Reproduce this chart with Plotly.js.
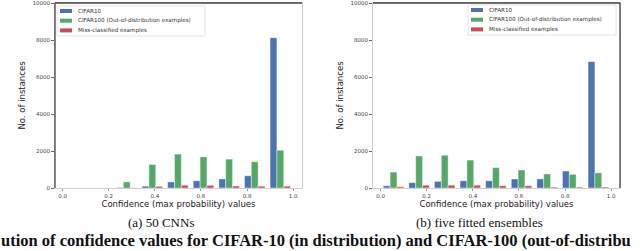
<!DOCTYPE html>
<html>
<head>
<meta charset="utf-8">
<script src="https://cdn.plot.ly/plotly-3.0.1.min.js"></script>
<style>html,body{margin:0;padding:0;background:#fff;}#chart{width:640px;height:251px;}</style>
</head>
<body>
<div id="chart"></div>
<script>
// Bin centres of the 9 histogram bins on [0, 1]
const binCenters = [0.056, 0.167, 0.278, 0.389, 0.5, 0.611, 0.722, 0.833, 0.944];
const xTickVals = [0.0, 0.2, 0.4, 0.6, 0.8, 1.0];
const xTickText = ["0.0", "0.2", "0.4", "0.6", "0.8", "1.0"];
const yTickVals = [0, 2000, 4000, 6000, 8000, 10000];
const yTickText = ["0", "2000", "4000", "6000", "8000", "10000"];
const seriesNames = ["CIFAR10", "CIFAR100 (Out-of-distribution examples)", "Miss-classified examples"];

// (a) 50 CNNs
const cifar10A  = [0, 0, 25, 100, 330, 390, 490, 660, 8120];
const cifar100A = [0, 0, 330, 1270, 1830, 1680, 1560, 1420, 2040];
const missA     = [0, 0, 10, 90, 150, 140, 110, 100, 100];

// (b) five fitted ensembles
const cifar10B  = [120, 290, 360, 390, 390, 485, 490, 915, 6830];
const cifar100B = [860, 1730, 1770, 1510, 1100, 975, 757, 740, 820];
const missB     = [70, 150, 150, 150, 120, 120, 50, 50, 50];

const captionA = "(a) 50 CNNs";
const captionB = "(b) five fitted ensembles";
const figCaption = "ution of confidence values for CIFAR-10 (in distribution) and CIFAR-100 (out-of-distribu";
const xTitle = "Confidence (max probability) values";
const yTitle = "No. of instances";

const colors = ["#4C72B0", "#55A868", "#C44E52"];
const W = 640, H = 251;
const px = x => x / W;
const py = y => 1 - y / H;

function mk(vals, i, xa, ya) {
  return {
    type: "bar", x: binCenters, y: vals, name: seriesNames[i],
    xaxis: xa, yaxis: ya, showlegend: false,
    marker: {color: colors[i], line: {color: "rgba(255,255,255,0.7)", width: 0.6}},
    hoverinfo: "x+y"
  };
}
const traces = [
  mk(cifar10A, 0, "x", "y"), mk(cifar100A, 1, "x", "y"), mk(missA, 2, "x", "y"),
  mk(cifar10B, 0, "x2", "y2"), mk(cifar100B, 1, "x2", "y2"), mk(missB, 2, "x2", "y2")
];

const tickFont = {family: "DejaVu Sans", size: 5.5, color: "#444"};
const titleFont = {family: "DejaVu Sans", size: 8.5, color: "#222"};
function xaxis(domain) {
  return {
    domain: domain, range: [-0.033, 1.038], tickvals: xTickVals, ticktext: xTickText,
    ticks: "outside", ticklen: 2, tickcolor: "#999", tickfont: tickFont,
    showgrid: false, zeroline: false, showline: true, mirror: true, linecolor: "#d0d0d0", linewidth: 1,
    title: {text: xTitle, font: titleFont, standoff: 3}, fixedrange: true
  };
}
function yaxis(anchor) {
  return {
    domain: [py(188), py(3)], range: [0, 10000], tickvals: yTickVals, ticktext: yTickText,
    ticks: "outside", ticklen: 3, tickcolor: "#666", tickfont: tickFont, ticklabeloverflow: "allow",
    showgrid: false, zeroline: false, showline: true, mirror: true, linecolor: "#d0d0d0", linewidth: 1,
    anchor: anchor, title: {text: yTitle, font: titleFont, standoff: 5}, fixedrange: true
  };
}

const shapes = [];
const annotations = [];
function line(x0, y0, x1, y1, c, w) {
  shapes.push({type: "line", xref: "paper", yref: "paper", x0: px(x0), y0: py(y0), x1: px(x1), y1: py(y1),
    line: {color: c, width: w}});
}
// darker frame edges
line(55, 3, 302, 3, "#444", 1.3); line(55, 3, 55, 188, "#444", 1.3);
line(373, 3, 620, 3, "#444", 1.3); line(620, 3, 620, 188, "#444", 1.3);

function legend(x0, y0, x1, y1) {
  shapes.push({type: "rect", xref: "paper", yref: "paper", x0: px(x0), y0: py(y0), x1: px(x1), y1: py(y1),
    line: {color: "#dddddd", width: 0.8}, fillcolor: "rgba(255,255,255,0.9)"});
  for (let i = 0; i < 3; i++) {
    const cy = y0 + 5 + i * 9.7;
    shapes.push({type: "rect", xref: "paper", yref: "paper", x0: px(x0 + 3), x1: px(x0 + 15),
      y0: py(cy - 2), y1: py(cy + 2), line: {width: 0}, fillcolor: colors[i]});
    annotations.push({xref: "paper", yref: "paper", x: px(x0 + 19), y: py(cy), xanchor: "left", yanchor: "middle",
      text: seriesNames[i], showarrow: false, font: {family: "DejaVu Sans", size: 5.6, color: "#333"}});
  }
}
legend(57, 6, 205, 36);
legend(468, 5, 616, 35);

annotations.push({xref: "paper", yref: "paper", x: px(161), y: py(222), xanchor: "center", yanchor: "middle",
  text: captionA, showarrow: false, font: {family: "Liberation Serif", size: 13, color: "#111"}});
annotations.push({xref: "paper", yref: "paper", x: px(479), y: py(222), xanchor: "center", yanchor: "middle",
  text: captionB, showarrow: false, font: {family: "Liberation Serif", size: 13, color: "#111"}});
annotations.push({xref: "paper", yref: "paper", x: px(0), y: py(251), xanchor: "left", yanchor: "bottom",
  text: "<b>" + figCaption + "</b>", showarrow: false, borderpad: 0,
  font: {family: "Liberation Serif", size: 16.5, color: "#111"}});

const layout = {
  width: W, height: H, margin: {l: 0, r: 0, t: 0, b: 0},
  paper_bgcolor: "#fff", plot_bgcolor: "#fff",
  barmode: "group", bargap: 0.2, bargroupgap: 0,
  xaxis: xaxis([px(55), px(302)]), yaxis: yaxis("x"),
  xaxis2: xaxis([px(373), px(620)]), yaxis2: yaxis("x2"),
  shapes: shapes, annotations: annotations, showlegend: false
};
layout.xaxis.anchor = "y";
layout.xaxis2.anchor = "y2";

Plotly.newPlot("chart", traces, layout, {displayModeBar: false, staticPlot: true});
</script>
</body>
</html>
